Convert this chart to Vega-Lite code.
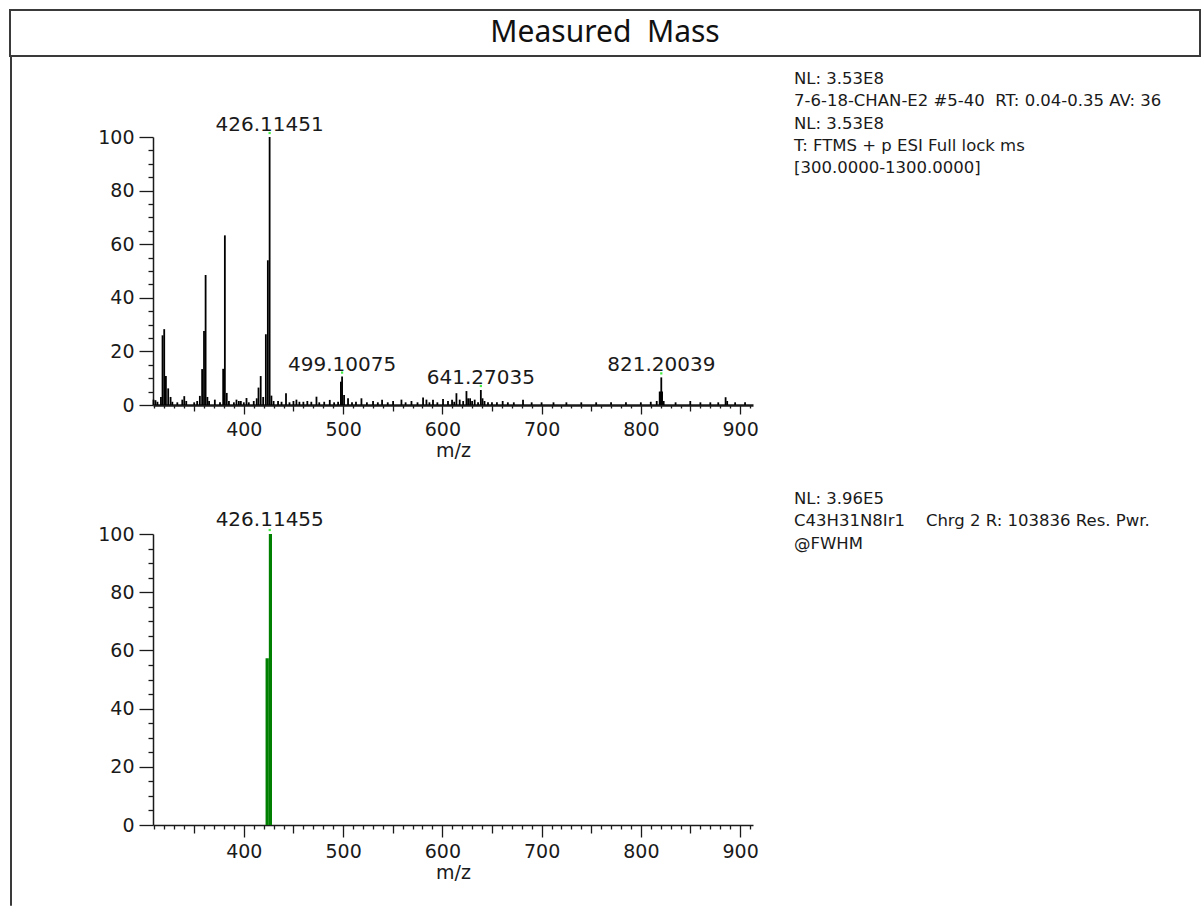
{
  "$schema": "https://vega.github.io/schema/vega-lite/v6.json",
  "padding": {"left": 9, "top": 9, "right": 0, "bottom": 0},
  "background": "white",
  "datasets": {
    "top": [
      {"mz": 309, "i": 2}, {"mz": 311, "i": 1.8}, {"mz": 313, "i": 1.2}, {"mz": 316.5, "i": 3},
      {"mz": 318.1, "i": 26}, {"mz": 319.8, "i": 28.3}, {"mz": 321.5, "i": 10.8}, {"mz": 323.8, "i": 6.2},
      {"mz": 326.2, "i": 3}, {"mz": 328, "i": 1.2}, {"mz": 333, "i": 1}, {"mz": 338, "i": 2},
      {"mz": 340, "i": 3.3}, {"mz": 342, "i": 1.5}, {"mz": 350, "i": 1}, {"mz": 353, "i": 1.5},
      {"mz": 355.7, "i": 3.4}, {"mz": 358, "i": 13.4}, {"mz": 359.9, "i": 27.6}, {"mz": 361.5, "i": 48.5},
      {"mz": 363.3, "i": 3}, {"mz": 365, "i": 1.5}, {"mz": 370.8, "i": 2}, {"mz": 376, "i": 1},
      {"mz": 379.2, "i": 13.5}, {"mz": 380.9, "i": 63.3}, {"mz": 382.8, "i": 4.5}, {"mz": 385, "i": 1.5},
      {"mz": 390, "i": 1}, {"mz": 392.6, "i": 2}, {"mz": 395, "i": 1.5}, {"mz": 397, "i": 1.5},
      {"mz": 400, "i": 1}, {"mz": 402.7, "i": 2.6}, {"mz": 405, "i": 1}, {"mz": 410, "i": 1.5},
      {"mz": 413, "i": 2.5}, {"mz": 414.8, "i": 6.5}, {"mz": 417, "i": 10.8}, {"mz": 419.5, "i": 3},
      {"mz": 422.2, "i": 26.4}, {"mz": 424.2, "i": 54}, {"mz": 426.0, "i": 100}, {"mz": 427.8, "i": 3.5},
      {"mz": 430, "i": 1.5}, {"mz": 434.5, "i": 1.5}, {"mz": 438, "i": 1.2}, {"mz": 442.5, "i": 4.4},
      {"mz": 446, "i": 1}, {"mz": 450, "i": 1.5}, {"mz": 453, "i": 2}, {"mz": 456, "i": 1.2},
      {"mz": 460, "i": 1.2}, {"mz": 464, "i": 1.5}, {"mz": 468, "i": 1.2}, {"mz": 473.2, "i": 3.1},
      {"mz": 476, "i": 1}, {"mz": 481, "i": 1.2}, {"mz": 486.6, "i": 1.9}, {"mz": 491, "i": 1},
      {"mz": 495, "i": 1.2}, {"mz": 497.8, "i": 8.7}, {"mz": 499.0, "i": 10.6}, {"mz": 501, "i": 3.7},
      {"mz": 505, "i": 2.5}, {"mz": 509, "i": 1}, {"mz": 513, "i": 1.2}, {"mz": 518.5, "i": 2.5},
      {"mz": 524, "i": 1}, {"mz": 530.2, "i": 1.5}, {"mz": 535, "i": 1}, {"mz": 539.3, "i": 2},
      {"mz": 545, "i": 1}, {"mz": 550.4, "i": 1.5}, {"mz": 558.8, "i": 2}, {"mz": 563, "i": 1},
      {"mz": 568.9, "i": 1.5}, {"mz": 575, "i": 1}, {"mz": 580.6, "i": 2.8}, {"mz": 584, "i": 2},
      {"mz": 587, "i": 1}, {"mz": 590.6, "i": 2}, {"mz": 595, "i": 1}, {"mz": 600.7, "i": 2.2},
      {"mz": 605.7, "i": 1.5}, {"mz": 609.8, "i": 2}, {"mz": 612, "i": 1.2}, {"mz": 614.2, "i": 4.4},
      {"mz": 617.5, "i": 2}, {"mz": 621, "i": 1.5}, {"mz": 624.3, "i": 5.2}, {"mz": 626, "i": 2.5},
      {"mz": 628, "i": 2.5}, {"mz": 630, "i": 1.5}, {"mz": 632.6, "i": 2}, {"mz": 636, "i": 1},
      {"mz": 638.8, "i": 5.6}, {"mz": 640.5, "i": 2.5}, {"mz": 642.5, "i": 1.5}, {"mz": 646, "i": 1},
      {"mz": 650, "i": 1}, {"mz": 655, "i": 1}, {"mz": 660.8, "i": 1.5}, {"mz": 666, "i": 1},
      {"mz": 672, "i": 1}, {"mz": 681.3, "i": 2}, {"mz": 690, "i": 1}, {"mz": 700, "i": 1},
      {"mz": 712, "i": 1}, {"mz": 725, "i": 1}, {"mz": 740, "i": 1}, {"mz": 755, "i": 1},
      {"mz": 770, "i": 1}, {"mz": 785, "i": 1}, {"mz": 800, "i": 1}, {"mz": 810, "i": 1.2},
      {"mz": 816, "i": 1.5}, {"mz": 819.0, "i": 5}, {"mz": 819.8, "i": 5}, {"mz": 820.6, "i": 10.3},
      {"mz": 821.4, "i": 5}, {"mz": 823, "i": 1.5}, {"mz": 835, "i": 1}, {"mz": 849.8, "i": 1.5},
      {"mz": 860, "i": 1}, {"mz": 870, "i": 1}, {"mz": 878, "i": 1}, {"mz": 885.4, "i": 2.9},
      {"mz": 887, "i": 1.5}, {"mz": 895, "i": 1}, {"mz": 905, "i": 1}
    ],
    "topLabels": [
      {"mz": 426.0, "i": 100, "label": "426.11451"},
      {"mz": 499.0, "i": 10.6, "label": "499.10075"},
      {"mz": 638.8, "i": 5.6, "label": "641.27035"},
      {"mz": 820.6, "i": 10.3, "label": "821.20039"}
    ],
    "bottomBars": [
      {"x1": 421.9, "x2": 425.2, "i": 57.3},
      {"x1": 425.2, "x2": 428.4, "i": 100}
    ],
    "bottomLabels": [
      {"mz": 426.1, "i": 100, "label": "426.11455"}
    ],
    "annotTop": [
      {"l": 0, "t": "NL: 3.53E8"},
      {"l": 1, "t": "7-6-18-CHAN-E2 #5-40\u00a0 RT: 0.04-0.35 AV: 36"},
      {"l": 2, "t": "NL: 3.53E8"},
      {"l": 3, "t": "\u00a0T: FTMS + p ESI Full lock ms"},
      {"l": 4, "t": "[300.0000-1300.0000]"}
    ],
    "annotBottom": [
      {"l": 0, "t": "NL: 3.96E5"},
      {"l": 1, "t": "C43H31N8Ir1\u00a0\u00a0\u00a0 Chrg 2 R: 103836 Res. Pwr."},
      {"l": 2, "t": "@FWHM"}
    ],
    "blank": [{"t": ""}]
  },
  "bounds": "flush",
  "spacing": 0,
  "vconcat": [
    {
      "width": 1190,
      "height": 46,
      "view": {"stroke": "#3a3a3a", "strokeWidth": 2},
      "data": {"values": [{"t": "Measured\u00a0 Mass"}]},
      "mark": {"type": "text", "font": "Noto Sans", "fontSize": 30, "color": "#111111"},
      "encoding": {"text": {"field": "t"}}
    },
    {
      "bounds": "flush",
      "spacing": 142,
      "hconcat": [
        {
          "width": 1,
          "height": 849,
          "view": {"stroke": "#3a3a3a", "strokeWidth": 1},
          "data": {"name": "blank"},
          "mark": "text",
          "encoding": {"text": {"field": "t"}}
        },
        {
          "bounds": "flush",
          "spacing": 641,
          "hconcat": [
            {
              "bounds": "flush",
              "spacing": 0,
              "vconcat": [
                {
                  "width": 600,
                  "height": 81,
                  "data": {"name": "blank"},
                  "mark": "text",
                  "encoding": {"text": {"field": "t"}}
                },
                {
                  "width": 600,
                  "height": 268,
                  "layer": [
                    {
                      "data": {"name": "top"},
                      "mark": {"type": "rule", "color": "#000000", "strokeWidth": 1.8},
                      "encoding": {
                        "x": {"field": "mz", "type": "quantitative",
                          "scale": {"domain": [308.5, 913], "nice": false, "zero": false},
                          "axis": {"orient": "bottom", "values": [400, 500, 600, 700, 800, 900], "tickSize": 9, "labelPadding": 6, "title": "m/z", "domainWidth": 2.5}},
                        "y": {"field": "i", "type": "quantitative",
                          "scale": {"domain": [0, 100], "nice": false},
                          "axis": {"orient": "left", "values": [0, 20, 40, 60, 80, 100], "tickSize": 14, "labelPadding": 5, "title": null}},
                        "y2": {"datum": 0}
                      }
                    },
                    {
                      "data": {"name": "top"},
                      "mark": {"type": "point", "opacity": 0},
                      "encoding": {
                        "x": {"field": "mz", "type": "quantitative",
                          "axis": {"orient": "bottom", "values": [350, 450, 550, 650, 750, 850], "tickSize": 6, "labels": false, "domain": false, "title": null}},
                        "y": {"field": "i", "type": "quantitative",
                          "axis": {"orient": "left", "values": [5, 10, 15, 25, 30, 35, 45, 50, 55, 65, 70, 75, 85, 90, 95], "tickSize": 5, "labels": false, "domain": false, "title": null}}
                      }
                    },
                    {
                      "data": {"name": "top"},
                      "mark": {"type": "point", "opacity": 0},
                      "encoding": {
                        "x": {"field": "mz", "type": "quantitative",
                          "axis": {"orient": "bottom", "values": [310, 320, 330, 340, 360, 370, 380, 390, 410, 420, 430, 440, 460, 470, 480, 490, 510, 520, 530, 540, 560, 570, 580, 590, 610, 620, 630, 640, 660, 670, 680, 690, 710, 720, 730, 740, 760, 770, 780, 790, 810, 820, 830, 840, 860, 870, 880, 890, 910], "tickSize": 3, "labels": false, "domain": false, "title": null}},
                        "y": {"field": "i", "type": "quantitative", "axis": null}
                      }
                    },
                    {
                      "data": {"name": "topLabels"},
                      "mark": {"type": "text", "fontSize": 20, "dy": -6, "baseline": "alphabetic", "align": "center", "color": "#1a1a1a"},
                      "encoding": {
                        "x": {"field": "mz", "type": "quantitative", "axis": null},
                        "y": {"field": "i", "type": "quantitative", "axis": null},
                        "text": {"field": "label"}
                      }
                    },
                    {
                      "data": {"name": "topLabels"},
                      "mark": {"type": "square", "filled": true, "size": 5, "color": "#44ee44", "opacity": 1, "yOffset": -4},
                      "encoding": {
                        "x": {"field": "mz", "type": "quantitative", "axis": null},
                        "y": {"field": "i", "type": "quantitative", "axis": null}
                      }
                    }
                  ],
                  "resolve": {"axis": {"x": "independent", "y": "independent"}}
                },
                {
                  "width": 600,
                  "height": 129,
                  "data": {"name": "blank"},
                  "mark": "text",
                  "encoding": {"text": {"field": "t"}}
                },
                {
                  "width": 600,
                  "height": 291,
                  "layer": [
                    {
                      "data": {"name": "bottomBars"},
                      "mark": {"type": "rect", "color": "#008000"},
                      "encoding": {
                        "x": {"field": "x1", "type": "quantitative",
                          "scale": {"domain": [308.5, 913], "nice": false, "zero": false},
                          "axis": {"orient": "bottom", "values": [400, 500, 600, 700, 800, 900], "tickSize": 12, "labelPadding": 5, "title": "m/z"}},
                        "x2": {"field": "x2"},
                        "y": {"field": "i", "type": "quantitative",
                          "scale": {"domain": [0, 100], "nice": false},
                          "axis": {"orient": "left", "values": [0, 20, 40, 60, 80, 100], "tickSize": 14, "labelPadding": 5, "title": null}},
                        "y2": {"datum": 0}
                      }
                    },
                    {
                      "data": {"name": "bottomBars"},
                      "mark": {"type": "point", "opacity": 0},
                      "encoding": {
                        "x": {"field": "x1", "type": "quantitative",
                          "axis": {"orient": "bottom", "values": [350, 450, 550, 650, 750, 850], "tickSize": 8, "labels": false, "domain": false, "title": null}},
                        "y": {"field": "i", "type": "quantitative",
                          "axis": {"orient": "left", "values": [5, 10, 15, 25, 30, 35, 45, 50, 55, 65, 70, 75, 85, 90, 95], "tickSize": 5, "labels": false, "domain": false, "title": null}}
                      }
                    },
                    {
                      "data": {"name": "bottomBars"},
                      "mark": {"type": "point", "opacity": 0},
                      "encoding": {
                        "x": {"field": "x1", "type": "quantitative",
                          "axis": {"orient": "bottom", "values": [310, 320, 330, 340, 360, 370, 380, 390, 410, 420, 430, 440, 460, 470, 480, 490, 510, 520, 530, 540, 560, 570, 580, 590, 610, 620, 630, 640, 660, 670, 680, 690, 710, 720, 730, 740, 760, 770, 780, 790, 810, 820, 830, 840, 860, 870, 880, 890, 910], "tickSize": 4, "labels": false, "domain": false, "title": null}},
                        "y": {"field": "i", "type": "quantitative", "axis": null}
                      }
                    },
                    {
                      "data": {"name": "bottomLabels"},
                      "mark": {"type": "text", "fontSize": 20, "dy": -8, "baseline": "alphabetic", "align": "center", "color": "#1a1a1a"},
                      "encoding": {
                        "x": {"field": "mz", "type": "quantitative", "axis": null},
                        "y": {"field": "i", "type": "quantitative", "axis": null},
                        "text": {"field": "label"}
                      }
                    },
                    {
                      "data": {"name": "bottomLabels"},
                      "mark": {"type": "square", "filled": true, "size": 5, "color": "#44ee44", "opacity": 1, "yOffset": -4},
                      "encoding": {
                        "x": {"field": "mz", "type": "quantitative", "axis": null},
                        "y": {"field": "i", "type": "quantitative", "axis": null}
                      }
                    }
                  ],
                  "resolve": {"axis": {"x": "independent", "y": "independent"}}
                }
              ]
            },
            {
              "bounds": "flush",
              "spacing": 300,
              "vconcat": [
                {
                  "width": 400,
                  "height": 124,
                  "data": {"name": "annotTop"},
                  "mark": {"type": "text", "align": "left", "baseline": "middle", "fontSize": 16.5, "color": "#1a1a1a"},
                  "encoding": {
                    "x": {"datum": 0, "type": "quantitative", "scale": {"domain": [0, 1]}, "axis": null},
                    "y": {"field": "l", "type": "quantitative", "scale": {"domain": [-1.0314, 4.5291], "reverse": true, "nice": false, "zero": false}, "axis": null},
                    "text": {"field": "t"}
                  }
                },
                {
                  "width": 400,
                  "height": 90,
                  "data": {"name": "annotBottom"},
                  "mark": {"type": "text", "align": "left", "baseline": "middle", "fontSize": 16.5, "color": "#1a1a1a"},
                  "encoding": {
                    "x": {"datum": 0, "type": "quantitative", "scale": {"domain": [0, 1]}, "axis": null},
                    "y": {"field": "l", "type": "quantitative", "scale": {"domain": [-0.8444, 3.1556], "reverse": true, "nice": false, "zero": false}, "axis": null},
                    "text": {"field": "t"}
                  }
                }
              ]
            }
          ]
        }
      ]
    }
  ],
  "config": {
    "view": {"stroke": null},
    "font": "DejaVu Sans",
    "text": {"font": "DejaVu Sans"},
    "axis": {
      "grid": false,
      "labelFont": "DejaVu Sans",
      "labelFontSize": 19,
      "labelColor": "#1a1a1a",
      "titleFont": "DejaVu Sans",
      "titleFontSize": 19,
      "titleFontWeight": "normal",
      "titleColor": "#1a1a1a",
      "titlePadding": 2,
      "domainColor": "#1a1a1a",
      "domainWidth": 1.5,
      "tickColor": "#1a1a1a",
      "tickWidth": 1.3,
      "labelFlush": false,
      "labelOverlap": false
    }
  }
}
